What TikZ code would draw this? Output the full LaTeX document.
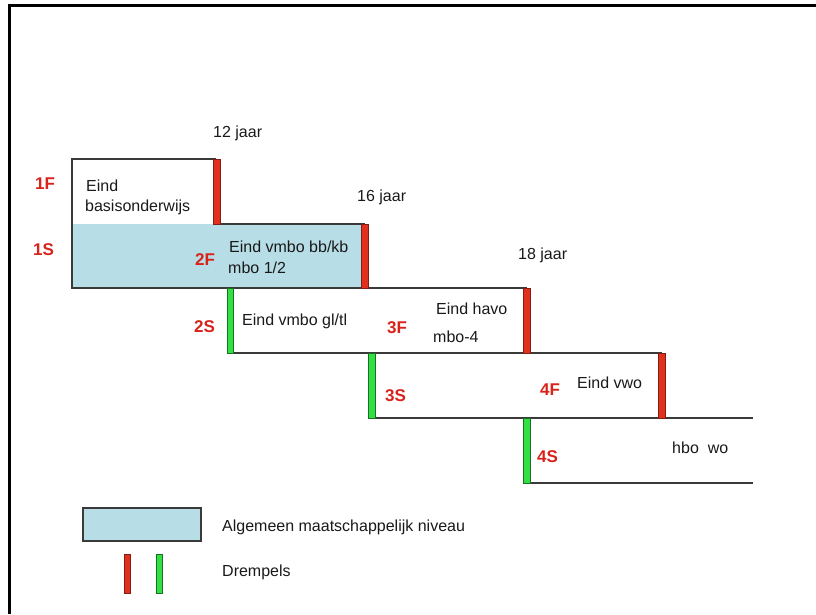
\documentclass[tikz,border=0pt]{standalone}
\usepackage{fontspec}
\setmainfont{Liberation Sans}
\definecolor{lblue}{HTML}{B7DDE6}
\definecolor{barred}{HTML}{E0301E}
\definecolor{bargreen}{HTML}{33E044}
\definecolor{lblred}{HTML}{D8231B}
\definecolor{edge}{HTML}{3A3A3A}
\begin{document}
\begin{tikzpicture}[x=1pt,y=-1pt,
  txt/.style={anchor=west,inner sep=0pt,font=\fontsize{16}{19}\selectfont,text=black!90},
  lvl/.style={anchor=west,inner sep=0pt,font=\fontsize{17}{20}\selectfont\bfseries,text=lblred},
  boxline/.style={draw=edge,line width=1.8pt},
  redbar/.style={fill=barred,draw=barred!60!black,line width=0.6pt},
  greenbar/.style={fill=bargreen,draw=bargreen!50!black,line width=0.6pt}]
\useasboundingbox (0,0) rectangle (816,614);
% frame
\draw[line width=3pt,black] (816,5) -- (9,5) -- (9,614);
% blue level
\fill[lblue] (72,224) rectangle (365,288);
% boxes
\draw[boxline] (72,224) -- (72,159) -- (216,159);
\draw[boxline] (72,224) -- (72,288) -- (365,288);
\draw[boxline] (216,224) -- (365,224);
\draw[boxline] (230,288) -- (230,353) -- (527,353);
\draw[boxline] (365,288) -- (527,288);
\draw[boxline] (372,353) -- (372,418) -- (753,418);
\draw[boxline] (527,353) -- (662,353);
\draw[boxline] (527,418) -- (527,483) -- (753,483);
% bars
\draw[redbar] (213,159) rectangle (220,224);
\draw[redbar] (361.5,224) rectangle (368.5,288);
\draw[greenbar] (227,288) rectangle (233.5,353);
\draw[redbar] (523.5,288) rectangle (530,353);
\draw[greenbar] (368.5,353) rectangle (375.5,418);
\draw[redbar] (658.5,353) rectangle (665.5,418);
\draw[greenbar] (523.5,418) rectangle (530.5,483);
% ages
\node[txt] (a12) at (213,133) {12 jaar};
\node[txt] (a16) at (357,197) {16 jaar};
\node[txt] (a18) at (518,255) {18 jaar};
% level labels
\node[lvl] (l1F) at (35,184) {1F};
\node[lvl] (l1S) at (33,250) {1S};
\node[lvl] (l2F) at (195,260) {2F};
\node[lvl] (l2S) at (194,327) {2S};
\node[lvl] (l3F) at (387,328) {3F};
\node[lvl] (l3S) at (385,396) {3S};
\node[lvl] (l4F) at (540,390) {4F};
\node[lvl] (l4S) at (537,457) {4S};
% texts
\node[txt] (t1a) at (86,186) {Eind};
\node[txt] (t1b) at (85,207) {basisonderwijs};
\node[txt] (t2a) at (229,247) {Eind vmbo bb/kb};
\node[txt] (t2b) at (228,268) {mbo 1/2};
\node[txt] (t3) at (242,321) {Eind vmbo gl/tl};
\node[txt] (t4a) at (436,309) {Eind havo};
\node[txt] (t4b) at (433,337) {mbo-4};
\node[txt] (t5) at (577,383) {Eind vwo};
\node[txt] (t6) at (672,448) {hbo\ \ wo};
% legend
\draw[fill=lblue,draw=edge,line width=1.8pt] (83,508) rectangle (201,541);
\node[txt] (lg1) at (222,527) {Algemeen maatschappelijk niveau};
\draw[redbar] (124,554) rectangle (130,593);
\draw[greenbar] (156,554) rectangle (162,593);
\node[txt] (lg2) at (222,572) {Drempels};
\end{tikzpicture}
\end{document}
